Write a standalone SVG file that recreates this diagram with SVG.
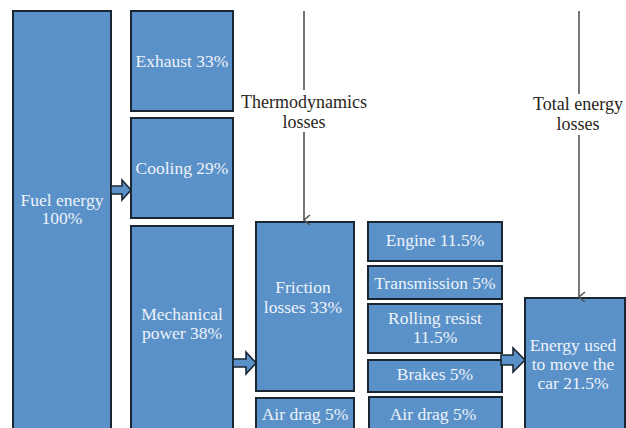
<svg xmlns="http://www.w3.org/2000/svg" width="626" height="428" viewBox="0 0 626 428">
<defs>
<style>
.box{fill:#5a91c8;stroke:#1b2633;stroke-width:2}
.bt{font-family:"Liberation Serif",serif;font-size:17.5px;fill:#eef3fa;text-anchor:middle}
.lt{font-family:"Liberation Serif",serif;font-size:18px;fill:#2a2520;text-anchor:middle}
.ln{stroke:#555;stroke-width:1.6;fill:none}
.fat{fill:#5a91c8;stroke:#1b2633;stroke-width:1.6;stroke-linejoin:miter}
</style>
<marker id="v" markerWidth="12" markerHeight="10" refX="6" refY="8" orient="auto" markerUnits="userSpaceOnUse" viewBox="0 0 12 10">
<path d="M1,2 L6,8 L11,2" fill="none" stroke="#555" stroke-width="1.6"/>
</marker>
</defs>
<rect width="626" height="428" fill="#fff"/>
<g id="fuel"><rect class="box" x="13" y="11" width="98" height="430"/><text class="bt" x="62" y="206">Fuel energy</text><text class="bt" x="62" y="224">100%</text></g>
<g id="exhaust"><rect class="box" x="131" y="11" width="102" height="100"/><text class="bt" x="182" y="67">Exhaust 33%</text></g>
<g id="cooling"><rect class="box" x="131" y="118" width="102" height="100"/><text class="bt" x="182" y="174">Cooling 29%</text></g>
<g id="mechanical"><rect class="box" x="131" y="226" width="102" height="215"/><text class="bt" x="182" y="320">Mechanical</text><text class="bt" x="182" y="339">power 38%</text></g>
<g id="friction"><rect class="box" x="256" y="222" width="98" height="169"/><text class="bt" x="303" y="293">Friction</text><text class="bt" x="303" y="313">losses 33%</text></g>
<g id="airdrag1"><rect class="box" x="256" y="398" width="98" height="40"/><text class="bt" x="305" y="420">Air drag 5%</text></g>
<g id="engine"><rect class="box" x="368" y="222" width="134" height="39"/><text class="bt" x="435" y="246">Engine 11.5%</text></g>
<g id="transmission"><rect class="box" x="368" y="266" width="134" height="33"/><text class="bt" x="435" y="289">Transmission 5%</text></g>
<g id="rolling"><rect class="box" x="368" y="304" width="134" height="49"/><text class="bt" x="435" y="324">Rolling resist</text><text class="bt" x="435" y="343">11.5%</text></g>
<g id="brakes"><rect class="box" x="368" y="360" width="134" height="32"/><text class="bt" x="435" y="380">Brakes 5%</text></g>
<g id="airdrag2"><rect class="box" x="369" y="397" width="133" height="40"/><text class="bt" x="433" y="420">Air drag 5%</text></g>
<g id="used"><rect class="box" x="525" y="298" width="100" height="140"/><text class="bt" x="573" y="351">Energy used</text><text class="bt" x="573" y="370">to move the</text><text class="bt" x="573" y="389">car 21.5%</text></g>
<g id="thermo-label"><text class="lt" x="304" y="108">Thermodynamics</text><text class="lt" x="304" y="128">losses</text></g>
<g id="total-label"><text class="lt" x="578" y="110">Total energy</text><text class="lt" x="578" y="130">losses</text></g>
<g id="connectors">
<path class="fat" d="M111,186 L122,186 L122,180 L131,190 L122,200 L122,194 L111,194 Z"/>
<path class="fat" d="M233,359 L246,359 L246,352 L256,363 L246,374 L246,367 L233,367 Z"/>
<path class="fat" d="M501,355 L513,355 L513,348 L525,360 L513,372 L513,365 L501,365 Z"/>
<line class="ln" x1="304" y1="11" x2="304" y2="90"/>
<line class="ln" x1="304" y1="132" x2="304" y2="220" marker-end="url(#v)"/>
<line class="ln" x1="579" y1="11" x2="579" y2="94"/>
<line class="ln" x1="579" y1="135" x2="579" y2="297" marker-end="url(#v)"/>
</g>
</svg>
